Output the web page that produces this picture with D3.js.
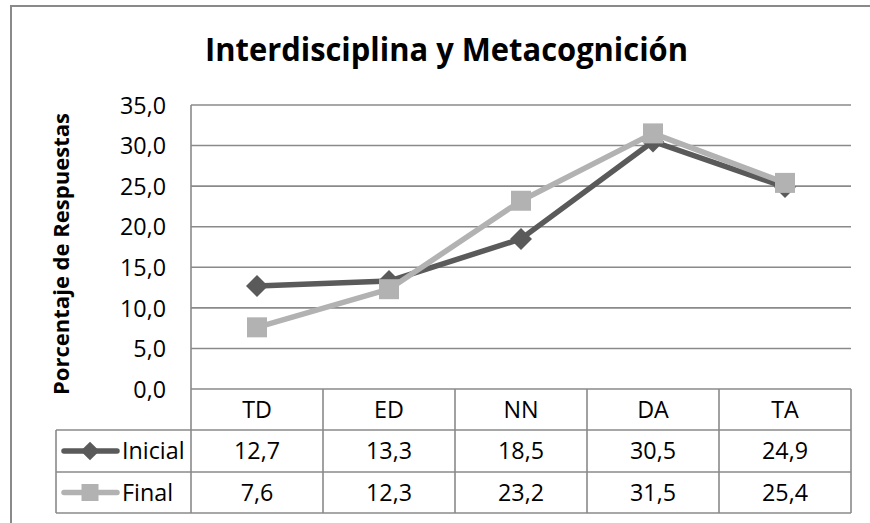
<!DOCTYPE html>
<html>
<head>
<meta charset="utf-8">
<script src="https://cdn.jsdelivr.net/npm/d3@7"></script>
<style>
  html, body { margin: 0; padding: 0; background: #fff; }
  svg { display: block; }
  text { font-family: "Open Sans", "Noto Sans", sans-serif; fill: #000; }
</style>
</head>
<body>
<svg id="chart" width="870" height="523"></svg>
<script>
// ---- data ----
const title = "Interdisciplina y Metacognición";
const yAxisTitle = "Porcentaje de Respuestas";
const categories = ["TD", "ED", "NN", "DA", "TA"];
const seriesNames = ["Inicial", "Final"];
const inicialValues = [12.7, 13.3, 18.5, 30.5, 24.9];
const finalValues = [7.6, 12.3, 23.2, 31.5, 25.4];
const yTickValues = [0, 5, 10, 15, 20, 25, 30, 35];

// ---- layout / style ----
const W = 870, H = 523;
const plot = { left: 191, right: 851, top: 105, bottom: 389 };
const tableLeft = 56;
const rowBounds = [389, 430, 472, 513];
const gridColor = "#8a8a8a";
const colors = { Inicial: "#5a5a5a", Final: "#b2b2b2" };

const svg = d3.select("#chart");

const x = d3.scaleBand().domain(categories).range([plot.left, plot.right]);
const y = d3.scaleLinear().domain([0, 35]).range([plot.bottom, plot.top]);
const fmt = v => d3.format(".1f")(v).replace(".", ",");

// outer chart border (extends beyond the visible area)
svg.append("rect")
  .attr("x", 11).attr("y", 6)
  .attr("width", W + 20).attr("height", H + 20)
  .attr("fill", "none").attr("stroke", gridColor).attr("stroke-width", 2);

// title (condensed like Calibri)
svg.append("text")
  .attr("x", 205).attr("y", 61)
  .attr("font-weight", "bold")
  .attr("font-size", 32)
  .attr("textLength", 483)
  .attr("lengthAdjust", "spacingAndGlyphs")
  .text(title);

// gridlines
svg.append("g").selectAll("line")
  .data(yTickValues)
  .join("line")
  .attr("x1", plot.left).attr("x2", plot.right)
  .attr("y1", d => y(d)).attr("y2", d => y(d))
  .attr("stroke", gridColor).attr("stroke-width", 1.6);

// y axis line
svg.append("line")
  .attr("x1", plot.left).attr("x2", plot.left)
  .attr("y1", plot.top).attr("y2", plot.bottom)
  .attr("stroke", gridColor).attr("stroke-width", 1.6);

// tick labels via d3 axis
const probe = svg.append("text").attr("font-size", 20).text("35,0");
const tickFs = 20 * 46 / probe.node().getComputedTextLength();
probe.remove();
const yAxis = d3.axisLeft(y).tickValues(yTickValues).tickFormat(fmt).tickSize(0).tickPadding(0);
const yg = svg.append("g").attr("transform", `translate(166,0)`).call(yAxis);
yg.select(".domain").remove();
yg.attr("font-size", tickFs.toFixed(2)).attr("font-family", null);
yg.selectAll("text").attr("fill", "#000").attr("dy", "0.35em");

// y axis title
svg.append("text")
  .attr("transform", `translate(62,254) rotate(-90)`)
  .attr("x", -141)
  .attr("dy", "0.35em")
  .attr("font-weight", "bold")
  .attr("font-size", 21)
  .attr("textLength", 282)
  .attr("lengthAdjust", "spacingAndGlyphs")
  .text(yAxisTitle);

// ---- data table ----
const tg = svg.append("g");
[rowBounds[1], rowBounds[2], rowBounds[3]].forEach(yy => {
  tg.append("line").attr("x1", tableLeft).attr("x2", plot.right)
    .attr("y1", yy).attr("y2", yy)
    .attr("stroke", gridColor).attr("stroke-width", 1.6);
});
const vx = [plot.left, ...categories.map(c => x(c) + x.bandwidth()).slice(0, -1), plot.right];
tg.selectAll("line.v").data(vx).join("line").attr("class", "v")
  .attr("x1", d => d).attr("x2", d => d)
  .attr("y1", rowBounds[0]).attr("y2", rowBounds[3])
  .attr("stroke", gridColor).attr("stroke-width", 1.6);
tg.append("line").attr("x1", tableLeft).attr("x2", tableLeft)
  .attr("y1", rowBounds[1]).attr("y2", rowBounds[3])
  .attr("stroke", gridColor).attr("stroke-width", 1.6);

const rowMid = i => (rowBounds[i] + rowBounds[i + 1]) / 2;
tg.selectAll("text.cat").data(categories).join("text").attr("class", "cat")
  .attr("x", d => x(d) + x.bandwidth() / 2).attr("y", rowMid(0))
  .attr("dy", "0.35em").attr("text-anchor", "middle")
  .attr("font-size", tickFs.toFixed(2)).text(d => d);

const seriesData = [
  { name: seriesNames[0], values: inicialValues, marker: "diamond" },
  { name: seriesNames[1], values: finalValues, marker: "square" }
];

function drawMarker(g, type, cx, cy, color, scale) {
  if (type === "diamond") {
    const r = 11 * scale;
    g.append("path")
      .attr("d", `M${cx},${cy - r}L${cx + r},${cy}L${cx},${cy + r}L${cx - r},${cy}Z`)
      .attr("fill", color);
  } else {
    const s = 20 * scale;
    g.append("rect").attr("x", cx - s / 2).attr("y", cy - s / 2)
      .attr("width", s).attr("height", s).attr("fill", color);
  }
}

seriesData.forEach((s, si) => {
  const ym = rowMid(si + 1);
  tg.selectAll(`text.val${si}`).data(s.values).join("text").attr("class", `val${si}`)
    .attr("x", (d, i) => x(categories[i]) + x.bandwidth() / 2).attr("y", ym)
    .attr("dy", "0.35em").attr("text-anchor", "middle")
    .attr("font-size", tickFs.toFixed(2)).text(d => fmt(d));
  tg.append("line").attr("x1", 64).attr("x2", 117).attr("y1", ym).attr("y2", ym)
    .attr("stroke", colors[s.name]).attr("stroke-width", 5.5).attr("stroke-linecap", "round");
  drawMarker(tg, s.marker, 90, ym, colors[s.name], 0.85);
  tg.append("text").attr("x", 122).attr("y", ym).attr("dy", "0.35em")
    .attr("font-size", tickFs.toFixed(2)).text(s.name);
});

// ---- lines ----
const line = d3.line()
  .x((d, i) => x(categories[i]) + x.bandwidth() / 2)
  .y(d => y(d));

seriesData.forEach(s => {
  const g = svg.append("g");
  g.append("path").datum(s.values)
    .attr("d", line).attr("fill", "none")
    .attr("stroke", colors[s.name]).attr("stroke-width", 5.5)
    .attr("stroke-linejoin", "round");
  s.values.forEach((v, i) => {
    drawMarker(g, s.marker, x(categories[i]) + x.bandwidth() / 2, y(v), colors[s.name], 1);
  });
});
</script>
</body>
</html>
